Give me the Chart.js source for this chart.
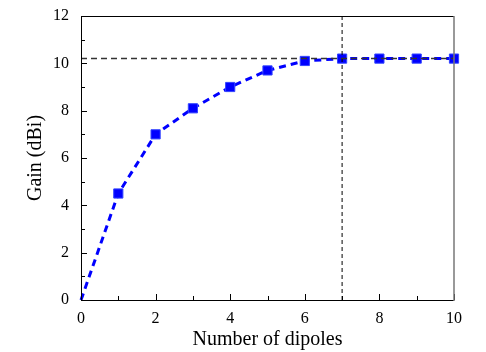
<!DOCTYPE html>
<html>
<head>
<meta charset="utf-8">
<script src="https://cdn.jsdelivr.net/npm/chart.js@4.4.0/dist/chart.umd.min.js"></script>
<style>
  html, body { margin: 0; padding: 0; background: #fff; }
  #wrap { width: 486px; height: 352px; }
</style>
</head>
<body>
<div id="wrap"><canvas id="gainChart" width="486" height="352"></canvas></div>
<script>
// number of dipoles vs gain
const dipoles = [0, 1, 2, 3, 4, 5, 6, 7, 8, 9, 10];
const gain = [0, 4.5, 7.0, 8.1, 9.0, 9.7, 10.1, 10.2, 10.2, 10.2, 10.2];
const maxGain = 10.2;
const saturationAt = 7;
const xTicks = [0, 2, 4, 6, 8, 10];
const yTicks = [0, 2, 4, 6, 8, 10, 12];

const serif = "'Liberation Serif', 'Times New Roman', serif";

// inner ticks + frame, drawn after everything
const frameTicks = {
  id: 'frameTicks',
  afterDraw(chart) {
    const { ctx, chartArea: a, scales: { x, y } } = chart;
    ctx.save();
    ctx.strokeStyle = '#000';
    ctx.lineWidth = 1;
    for (let v = 0; v <= 10; v++) {
      const px = Math.round(x.getPixelForValue(v)) + 0.5;
      const len = v % 2 === 0 ? 6 : 4;
      ctx.beginPath();
      ctx.moveTo(px, a.bottom);
      ctx.lineTo(px, a.bottom - len);
      ctx.stroke();
    }
    for (let v = 0; v <= 12; v++) {
      const py = Math.round(y.getPixelForValue(v)) + 0.5;
      const len = v % 2 === 0 ? 6 : 4;
      ctx.beginPath();
      ctx.moveTo(a.left, py);
      ctx.lineTo(a.left + len, py);
      ctx.stroke();
    }
    ctx.beginPath();
    ctx.moveTo(a.left + 0.5, a.bottom + 0.5);
    ctx.lineTo(a.left + 0.5, a.top + 0.5);
    ctx.lineTo(a.right, a.top + 0.5);
    ctx.moveTo(a.left, a.bottom + 0.5);
    ctx.lineTo(a.right, a.bottom + 0.5);
    ctx.stroke();
    ctx.strokeStyle = '#777';
    ctx.lineWidth = 1.5;
    ctx.beginPath();
    ctx.moveTo(a.right, a.top);
    ctx.lineTo(a.right, a.bottom + 1);
    ctx.stroke();
    ctx.restore();
  }
};

new Chart(document.getElementById('gainChart'), {
  type: 'scatter',
  data: {
    datasets: [
      {
        label: 'max',
        data: [{ x: 0, y: maxGain }, { x: 10, y: maxGain }],
        showLine: true,
        borderColor: '#333',
        borderWidth: 1.5,
        borderDash: [6, 4],
        pointRadius: 0
      },
      {
        label: 'sat',
        data: [{ x: saturationAt, y: 0 }, { x: saturationAt, y: 12 }],
        showLine: true,
        borderColor: '#000',
        borderWidth: 1,
        borderDash: [4, 3],
        pointRadius: 0
      },
      {
        label: 'Gain',
        data: dipoles.map((d, i) => ({ x: d, y: gain[i] })),
        showLine: true,
        borderColor: '#0000ff',
        borderWidth: 3,
        borderDash: [7, 5],
        pointStyle: 'rect',
        pointRadius: dipoles.map(d => d === 0 ? 0 : 6.5),
        pointBackgroundColor: '#0000ff',
        pointBorderColor: '#3344ff',
        pointBorderWidth: 1,
        clip: false
      }
    ]
  },
  options: {
    responsive: false,
    animation: false,
    layout: { padding: { top: 16, right: 32, left: 0, bottom: 0 } },
    plugins: { legend: { display: false }, tooltip: { enabled: false } },
    scales: {
      x: {
        type: 'linear',
        min: 0,
        max: 10,
        afterBuildTicks: s => { s.ticks = xTicks.map(v => ({ value: v })); },
        afterFit: s => { s.height = 52; },
        grid: { display: false },
        border: { display: false },
        ticks: { color: '#000', font: { family: serif, size: 16 }, padding: 1 },
        title: {
          display: true,
          text: 'Number of dipoles',
          color: '#000',
          font: { family: serif, size: 20 },
          padding: { top: 0, bottom: 0 }
        }
      },
      y: {
        type: 'linear',
        min: 0,
        max: 12,
        afterBuildTicks: s => { s.ticks = yTicks.map(v => ({ value: v })); },
        afterFit: s => { s.width = 81; },
        grid: { display: false },
        border: { display: false },
        ticks: { color: '#000', font: { family: serif, size: 16 }, padding: 4 },
        title: {
          display: true,
          text: 'Gain (dBi)',
          color: '#000',
          font: { family: serif, size: 20 },
          padding: { top: 24, bottom: 0 }
        }
      }
    }
  },
  plugins: [frameTicks]
});
</script>
</body>
</html>
